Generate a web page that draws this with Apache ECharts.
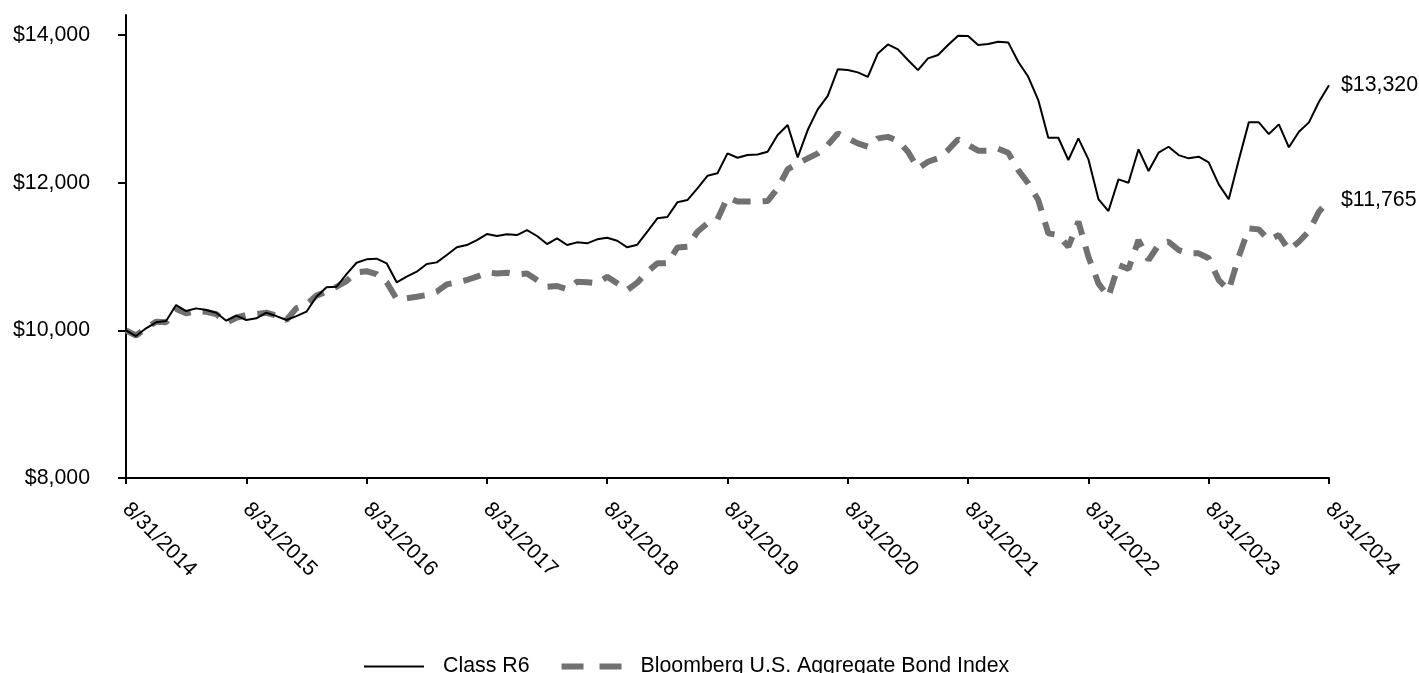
<!DOCTYPE html>
<html>
<head>
<meta charset="utf-8">
<script src="https://cdn.jsdelivr.net/npm/echarts@6/dist/echarts.min.js"></script>
<style>
    html,body{margin:0;padding:0;background:#fff;}
    #chart{width:1419px;height:673px;}
</style>
</head>
<body>
<div id="chart"></div>
<script>
// growth of $10,000, monthly, 8/31/2014 - 8/31/2024
var classR6=[10000,9922,10027,10108,10126,10342,10261,10297,10275,10238,10130,10198,
    10140,10162,10238,10193,10140,10193,10252,10455,10582,10590,10762,10915,
    10961,10970,10907,10650,10726,10794,10898,10920,11019,11124,11155,11222,
    11304,11277,11300,11290,11358,11277,11168,11245,11155,11191,11178,11232,
    11254,11213,11124,11159,11335,11516,11534,11733,11764,11922,12093,12126,
    12396,12337,12373,12382,12418,12644,12780,12342,12712,12992,13176,13534,
    13524,13493,13433,13750,13872,13805,13660,13524,13683,13728,13863,13989,
    13985,13863,13877,13908,13899,13637,13433,13118,12608,12608,12306,12599,
    12315,11778,11615,12044,11999,12451,12157,12405,12486,12373,12329,12351,
    12275,11977,11774,12306,12816,12816,12658,12789,12478,12689,12816,13095,
    13320];

var bloomberg=[10000,9930,10030,10117,10110,10290,10230,10260,10250,10220,10100,10170,
    10207,10220,10238,10200,10140,10300,10350,10470,10523,10590,10667,10785,
    10800,10762,10650,10424,10433,10455,10478,10523,10622,10650,10681,10726,
    10785,10770,10780,10758,10770,10681,10590,10600,10554,10659,10650,10636,
    10726,10636,10545,10645,10794,10907,10910,11120,11132,11335,11449,11503,
    11800,11743,11743,11743,11750,11922,12180,12260,12329,12396,12509,12667,
    12599,12532,12486,12599,12620,12567,12418,12193,12283,12330,12441,12586,
    12509,12432,12432,12460,12405,12170,11990,11764,11313,11290,11132,11471,
    10997,10636,10455,10884,10830,11223,10952,11155,11200,11087,11042,11042,
    10975,10681,10545,10997,11381,11367,11223,11290,11087,11200,11344,11606,
    11765];

var seriesNames=['Class R6','Bloomberg U.S. Aggregate Bond Index'];
var yTicks=[8000,10000,12000,14000];

// month-end dates
var monthEnd=[31,28,31,30,31,30,31,31,30,31,30,31];
var dates=[];
for(var i=0;i<121;i++){
    var m=(7+i)%12;
    var y=2014+Math.floor((7+i)/12);
    var d=monthEnd[m];
    if(m==1 && y%4==0){ d=29; }
    dates.push((m+1)+'/'+d+'/'+y);
}

function money(v){
    return '$'+Number(v).toLocaleString('en-US');
}

window.onload=function(){
    var font='"Liberation Sans", Arial, sans-serif';
    var fs=21.33;
    var myChart=echarts.init(document.getElementById('chart'));

    var option={
        animation:false,
        textStyle:{fontFamily:font,color:'#000'},
        grid:{left:126,right:90,top:15,bottom:195},
        legend:{
            top:651,
            left:358,
            itemWidth:60,
            itemHeight:20,
            itemGap:29,
            itemStyle:{opacity:0},
            textStyle:{fontSize:fs,color:'#000',fontFamily:font,padding:[0,0,0,14]},
            data:[
                {name:seriesNames[0],lineStyle:{color:'#000',width:2}},
                {name:seriesNames[1],lineStyle:{color:'#717171',width:6,type:[22,16]}}
            ]
        },
        xAxis:{
            type:'category',
            boundaryGap:false,
            data:dates,
            axisLine:{lineStyle:{color:'#000',width:2}},
            axisTick:{interval:11,length:6,lineStyle:{color:'#000',width:2}},
            axisLabel:{interval:11,rotate:-45,margin:28,fontSize:fs,color:'#000',fontFamily:font}
        },
        yAxis:{
            type:'value',
            min:8000,
            max:14270,
            splitLine:{show:false},
            axisLine:{show:true,lineStyle:{color:'#000',width:2}},
            axisTick:{show:true,length:8,customValues:yTicks,lineStyle:{color:'#000',width:2}},
            axisLabel:{customValues:yTicks,margin:36,fontSize:fs,color:'#000',fontFamily:font,
                formatter:function(v){ return money(v); }}
        },
        series:[{
            name:seriesNames[0],
            type:'line',
            data:classR6,
            symbol:'none',
            lineStyle:{color:'#000',width:2},
            itemStyle:{color:'#000'},
            endLabel:{show:true,distance:12,fontSize:fs,color:'#000',fontFamily:font,
                formatter:function(p){ return money(p.value); }},
            z:3
        },{
            name:seriesNames[1],
            type:'line',
            data:bloomberg,
            symbol:'none',
            lineStyle:{color:'#717171',width:6,type:[18,12]},
            itemStyle:{color:'#717171'},
            endLabel:{show:true,distance:12,fontSize:fs,color:'#000',fontFamily:font,
                formatter:function(p){ return money(p.value); }},
            z:2
        }]
    };

    myChart.setOption(option);
}
</script>
</body>
</html>
